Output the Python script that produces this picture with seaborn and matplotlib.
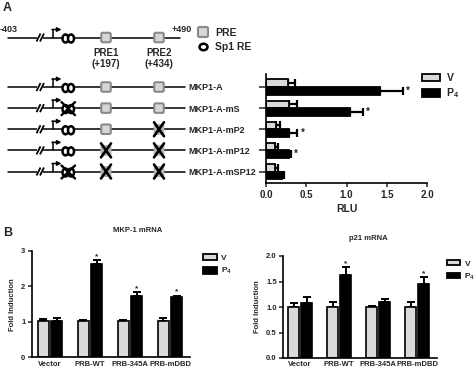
import numpy as np
import pandas as pd
import matplotlib
matplotlib.use("Agg")
import matplotlib.pyplot as plt
import seaborn as sns
from matplotlib.patches import Patch, Ellipse, FancyBboxPatch
from matplotlib.container import BarContainer

# ---------------- data ----------------
constructs = ['MKP1-A', 'MKP1-A-mS', 'MKP1-A-mP2', 'MKP1-A-mP12', 'MKP1-A-mSP12']
sp1_mut = [False, True, False, False, True]
pre1_mut = [False, False, False, True, True]
pre2_mut = [False, False, True, True, True]
rlu_v = [0.27, 0.28, 0.13, 0.11, 0.11]
rlu_v_top = [0.36, 0.39, 0.18, 0.15, 0.15]
rlu_p4 = [1.42, 1.04, 0.29, 0.29, 0.20]
rlu_p4_top = [1.70, 1.20, 0.39, 0.31, 0.22]
rlu_star = [True, True, True, True, False]

groups = ['Vector', 'PRB-WT', 'PRB-345A', 'PRB-mDBD']
mkp_v = [1.025, 1.025, 1.025, 1.025]
mkp_v_top = [1.08, 1.05, 1.05, 1.10]
mkp_p4 = [1.025, 2.62, 1.74, 1.71]
mkp_p4_top = [1.12, 2.75, 1.83, 1.74]
mkp_star = [False, True, True, True]

p21_v = [1.00, 1.00, 1.00, 1.00]
p21_v_top = [1.07, 1.09, 1.01, 1.09]
p21_p4 = [1.07, 1.62, 1.09, 1.45]
p21_p4_top = [1.19, 1.78, 1.16, 1.58]
p21_star = [False, True, False, True]

treatments = ['V', 'P4']
leg_labels = ['V', 'P$_4$']

# ---------------- style ----------------
sns.set_style('ticks')
plt.rcParams['font.family'] = ['Liberation Sans', 'DejaVu Sans']
plt.rcParams['font.weight'] = 'bold'
plt.rcParams['axes.labelweight'] = 'bold'
plt.rcParams['mathtext.fontset'] = 'custom'
plt.rcParams['mathtext.rm'] = 'Liberation Sans:bold'
plt.rcParams['mathtext.it'] = 'Liberation Sans:bold'
plt.rcParams['mathtext.bf'] = 'Liberation Sans:bold'
plt.rcParams['mathtext.default'] = 'rm'

LIGHT = '#d9d9d9'
pal = {'V': LIGHT, 'P4': 'black'}

W, H = 475, 374
fig = plt.figure(figsize=(W / 100, H / 100), dpi=100)


def ax_px(left, top, right, bottom, **kw):
    return fig.add_axes([left / W, 1 - bottom / H, (right - left) / W, (bottom - top) / H], **kw)


# overlay for schematic drawing (pixel coordinates)
sch = ax_px(0, 0, W, H)
sch.set_xlim(0, W)
sch.set_ylim(H, 0)
sch.axis('off')
sch.set_zorder(0)


def long_df(cats, vcol, pcol, catname, valname):
    return pd.DataFrame({
        catname: list(cats) * 2,
        'treat': ['V'] * len(cats) + ['P4'] * len(cats),
        valname: list(vcol) + list(pcol),
    })


def style_axis(ax):
    for s in ['top', 'right']:
        ax.spines[s].set_visible(False)
    for s in ['left', 'bottom']:
        ax.spines[s].set_linewidth(1.2)
        ax.spines[s].set_color('black')


def add_errors(ax, tops_by_hue, stars, horizontal, star_off, star_fs):
    bar_conts = [c for c in ax.containers if isinstance(c, BarContainer)]
    for hi, cont in enumerate(bar_conts):
        tops = tops_by_hue[hi]
        for bi, bar in enumerate(cont.patches):
            if horizontal:
                val = bar.get_width()
                c = bar.get_y() + bar.get_height() / 2
                ax.errorbar(val, c, xerr=[[0], [tops[bi] - val]], fmt='none', ecolor='black',
                            elinewidth=1.6, capsize=2.6, capthick=1.6, zorder=1)
                if hi == 1 and stars[bi]:
                    ax.text(tops[bi] + star_off, c, '*', ha='left', va='center', fontsize=star_fs)
            else:
                val = bar.get_height()
                c = bar.get_x() + bar.get_width() / 2
                ax.errorbar(c, val, yerr=[[0], [tops[bi] - val]], fmt='none', ecolor='black',
                            elinewidth=1.4, capsize=2.6, capthick=1.4, zorder=1)
                if hi == 1 and stars[bi]:
                    ax.text(c, tops[bi] + star_off, '*', ha='center', va='bottom', fontsize=star_fs)


def make_legend(ax, x, y, fs, hl, hh, ls, tp):
    ax.legend(handles=[Patch(facecolor=pal[t], edgecolor='black', linewidth=1.3) for t in treatments],
              labels=leg_labels, loc='upper left', bbox_to_anchor=(x / W, 1 - y / H),
              bbox_transform=fig.transFigure, frameon=False, borderpad=0, borderaxespad=0,
              fontsize=fs, handlelength=hl, handleheight=hh, handletextpad=tp, labelspacing=ls)


# ---------------- Panel A bars ----------------
axA = ax_px(266, 74, 427, 183)
dfA = long_df(constructs, rlu_v, rlu_p4, 'construct', 'RLU')
sns.barplot(data=dfA, x='RLU', y='construct', hue='treat', orient='h', palette=pal,
            hue_order=treatments, edgecolor='black', linewidth=1.3, width=0.72, gap=0.0,
            errorbar=None, legend=False, ax=axA, zorder=2)
axA.set_xlim(0, 2)
axA.set_ylim(4.544, -0.615)
axA.set_xticks([0, 0.5, 1.0, 1.5, 2.0])
axA.set_xticklabels(['0.0', '0.5', '1.0', '1.5', '2.0'], fontsize=7, fontweight='bold')
axA.set_xlabel('RLU', fontsize=7.5, fontweight='bold', labelpad=3)
axA.set_ylabel('')
axA.tick_params(axis='y', length=5, width=1.1, pad=51)
axA.tick_params(axis='x', length=3, width=1.1, pad=2)
axA.set_yticks(range(len(constructs)))
axA.set_yticklabels(constructs, fontsize=6.5, fontweight='bold')
for t in axA.get_yticklabels():
    t.set_horizontalalignment('left')
style_axis(axA)
add_errors(axA, [rlu_v_top, rlu_p4_top], rlu_star, True, 0.04, 7)
make_legend(axA, 422, 73, 7.5, 1.75, 0.7, 0.35, 0.6)

# ---------------- Panel A schematic ----------------
def hatch_break(x, y):
    for dx in (0, 3.5):
        sch.plot([x - 2 + dx, x + 2 + dx], [y + 4, y - 4], color='black', lw=1.3,
                 solid_capstyle='butt', zorder=3)
    sch.add_patch(plt.Rectangle((x - 1.2, y - 1.2), 5.7, 2.4, color='white', zorder=2.5, lw=0))


def promoter(x, y):
    sch.plot([x, x], [y, y - 8], color='black', lw=1.1, zorder=3)
    sch.annotate('', xy=(x + 9, y - 8), xytext=(x - 0.5, y - 8),
                 arrowprops=dict(arrowstyle='-|>', lw=1.1, color='black', mutation_scale=6,
                                 shrinkA=0, shrinkB=0), zorder=3)


def sp1(x, y, mutated):
    for dx in (0, 5.5):
        sch.add_patch(Ellipse((x + dx, y + 1), 6.0, 8.0, facecolor='white', edgecolor='black',
                              lw=1.8, zorder=3))
    if mutated:
        sch.plot([x - 4, x + 9.5], [y - 6, y + 7], color='black', lw=1.7, zorder=4)
        sch.plot([x - 4, x + 9.5], [y + 7, y - 6], color='black', lw=1.7, zorder=4)


def pre(x, y, mutated):
    s = 9.5
    if mutated:
        sch.add_patch(FancyBboxPatch((x - s / 2, y - s / 2), s, s,
                                     boxstyle='round,pad=0,rounding_size=1.5',
                                     facecolor='#b3b3b3', edgecolor='#b3b3b3', lw=1.0, zorder=3))
        sch.plot([x - 5, x + 5], [y - 7, y + 7], color='black', lw=1.9, zorder=4)
        sch.plot([x - 5, x + 5], [y + 7, y - 7], color='black', lw=1.9, zorder=4)
    else:
        sch.add_patch(FancyBboxPatch((x - s / 2, y - s / 2), s, s,
                                     boxstyle='round,pad=0,rounding_size=1.5',
                                     facecolor='#d6d6d6', edgecolor='#8a8a8a', lw=1.5, zorder=3))


def construct_row(y, x_end, sp1m, p1m, p2m):
    sch.plot([8, x_end], [y, y], color='black', lw=1.1, zorder=1)
    hatch_break(38.5, y)
    promoter(52.5, y)
    sp1(65.5, y, sp1m)
    pre(106, y, p1m)
    pre(159, y, p2m)


# top map
y0 = 37.5
construct_row(y0, 180, False, False, False)
sch.text(0, 29, '-403', fontsize=6.5, ha='left', va='center')
sch.text(172, 29.5, '+490', fontsize=6.5, ha='left', va='center')
sch.text(106, 53, 'PRE1', fontsize=7, ha='center', va='center')
sch.text(106, 63.5, '(+197)', fontsize=7, ha='center', va='center')
sch.text(159, 53, 'PRE2', fontsize=7, ha='center', va='center')
sch.text(159, 63.5, '(+434)', fontsize=7, ha='center', va='center')
# legend of schematic
sch.add_patch(FancyBboxPatch((198, 27), 10, 10, boxstyle='round,pad=0,rounding_size=1.5',
                             facecolor='#d6d6d6', edgecolor='#8a8a8a', lw=1.5, zorder=3))
sch.text(215, 32.5, 'PRE', fontsize=7.5, ha='left', va='center')
sch.add_patch(Ellipse((203.5, 47), 8, 6.5, facecolor='white', edgecolor='black', lw=1.8, zorder=3))
sch.text(215, 47, 'Sp1 RE', fontsize=7.5, ha='left', va='center')

# construct rows aligned to the bar axis ticks
fig.canvas.draw()
for i, name in enumerate(constructs):
    disp = axA.transData.transform((0, i))
    yrow = H - disp[1]
    construct_row(yrow, 185, sp1_mut[i], pre1_mut[i], pre2_mut[i])

fig.text(3 / W, 1 - 8 / H, 'A', fontsize=9, fontweight='bold', ha='left', va='center')
fig.text(3 / W, 1 - 233 / H, 'B', fontsize=9, fontweight='bold', ha='left', va='center')

# ---------------- Panel B ----------------
def panel_b(ax, vv, vt, pv, pt, stars, ylim, yticks, yticklabels, xlim):
    df = long_df(groups, vv, pv, 'group', 'fold')
    sns.barplot(data=df, x='group', y='fold', hue='treat', palette=pal, hue_order=treatments,
                edgecolor='black', linewidth=1.2, width=0.66, gap=0.12, errorbar=None,
                legend=False, ax=ax, zorder=2)
    ax.set_xlim(*xlim)
    ax.set_ylim(*ylim)
    ax.set_yticks(yticks)
    ax.set_yticklabels(yticklabels, fontsize=5.5, fontweight='bold')
    ax.set_xticks(range(len(groups)))
    ax.set_xticklabels(groups, fontsize=5.5, fontweight='bold')
    ax.set_xlabel('')
    ax.set_ylabel('Fold Induction', fontsize=5.5, fontweight='bold', labelpad=4)
    ax.tick_params(axis='y', length=3, width=1.1, pad=1.5)
    ax.tick_params(axis='x', length=0, pad=2.5)
    style_axis(ax)
    add_errors(ax, [vt, pt], stars, False, 0.0, 6)


axBL = ax_px(31.7, 251, 190, 357.3)
panel_b(axBL, mkp_v, mkp_v_top, mkp_p4, mkp_p4_top, mkp_star, (0, 3), [0, 1, 2, 3],
        ['0', '1', '2', '3'], (-0.46, 3.5))
make_legend(axBL, 203, 254, 6, 1.7, 0.8, 0.5, 0.5)
fig.text(138 / W, 1 - 231 / H, 'MKP-1 mRNA', fontsize=5.5, fontweight='bold', ha='center', va='center')

axBR = ax_px(283, 256, 437, 358)
panel_b(axBR, p21_v, p21_v_top, p21_p4, p21_p4_top, p21_star, (0, 2), [0, 0.5, 1.0, 1.5, 2.0],
        ['0.0', '0.5', '1.0', '1.5', '2.0'], (-0.44, 3.51))
make_legend(axBR, 447, 260, 6, 1.55, 0.6, 0.45, 0.55)
fig.text(368 / W, 1 - 239 / H, 'p21 mRNA', fontsize=5.5, fontweight='bold', ha='center', va='center')

fig.savefig('out.png', dpi=100)
